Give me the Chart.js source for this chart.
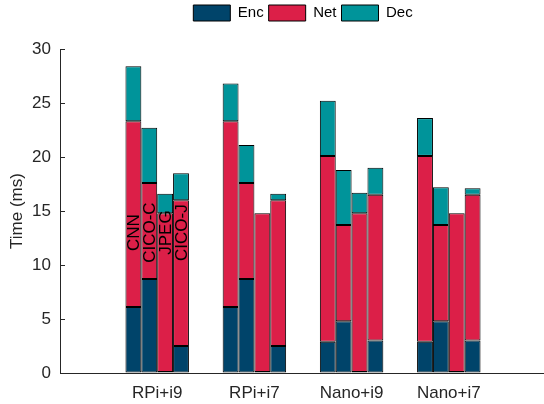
<!DOCTYPE html>
<html>
<head>
<meta charset="utf-8">
<script src="https://cdn.jsdelivr.net/npm/chart.js@4"></script>
<style>
  body { margin: 0; overflow: hidden; background: #fff; }
</style>
</head>
<body>
<canvas id="myChart" width="556" height="404"></canvas>
<script>
// Categories on the x axis (empty slots keep the 0..5 range)
var groups = ['', 'RPi+i9', 'RPi+i7', 'Nano+i9', 'Nano+i7', ''];
// Methods (one bar per method in each group)
var methods = ['CNN', 'CICO-C', 'JPEG', 'CICO-J'];
// Parts of each bar
var parts = ['Enc', 'Net', 'Dec'];

// Enc time per method, for RPi+i9, RPi+i7, Nano+i9, Nano+i7
var encCNN = [6.1, 6.1, 2.9, 2.9];
var encCICOC = [8.7, 8.7, 4.8, 4.8];
var encJPEG = [0.1, 0.1, 0.1, 0.1];
var encCICOJ = [2.5, 2.5, 3.0, 3.0];

// Net time per method
var netCNN = [17.2, 17.2, 17.2, 17.2];
var netCICOC = [8.9, 8.9, 8.9, 8.9];
var netJPEG = [14.7, 14.7, 14.7, 14.7];
var netCICOJ = [13.5, 13.5, 13.5, 13.5];

// Dec time per method
var decCNN = [5.1, 3.5, 5.1, 3.5];
var decCICOC = [5.1, 3.5, 5.1, 3.5];
var decJPEG = [1.8, 0, 1.9, 0];
var decCICOJ = [2.5, 0.6, 2.5, 0.6];

// Y axis ticks
var yTicks = [0, 5, 10, 15, 20, 25, 30];

var values = [
    [encCNN, netCNN, decCNN],
    [encCICOC, netCICOC, decCICOC],
    [encJPEG, netJPEG, decJPEG],
    [encCICOJ, netCICOJ, decCICOJ]
];
var colors = ['#00446a', '#dc1f48', '#00949a'];
var axisColor = '#262626';
var font = "'Liberation Sans', Arial, Helvetica, sans-serif";

// one dataset per method and part, stacked per method
var datasets = [];
methods.forEach(function(m, mi) {
    parts.forEach(function(p, pi) {
        datasets.push({
            label: p,
            stack: m,
            data: [null].concat(values[mi][pi]).concat([null]),
            backgroundColor: colors[pi],
            borderColor: '#000',
            borderWidth: 1,
            borderSkipped: false
        });
    });
});

// inward y ticks like the original
var inwardTicks = {
    id: 'inwardTicks',
    afterDraw: function(chart) {
        var ctx = chart.ctx;
        var y = chart.scales.y;
        ctx.save();
        ctx.strokeStyle = axisColor;
        ctx.lineWidth = 1;
        yTicks.forEach(function(t) {
            var py = Math.round(y.getPixelForValue(t)) + 0.5;
            ctx.beginPath();
            ctx.moveTo(chart.chartArea.left, py);
            ctx.lineTo(chart.chartArea.left + 5, py);
            ctx.stroke();
        });
        ctx.restore();
    }
};

// method names written inside the first group
var methodLabels = {
    id: 'methodLabels',
    afterDatasetsDraw: function(chart) {
        var ctx = chart.ctx;
        var y = chart.scales.y.getPixelForValue(13);
        ctx.save();
        ctx.fillStyle = '#000';
        ctx.font = '17px ' + font;
        ctx.textAlign = 'center';
        ctx.textBaseline = 'middle';
        methods.forEach(function(m, mi) {
            var bar = chart.getDatasetMeta(mi * 3).data[1];
            ctx.save();
            ctx.translate(bar.x + 1, y);
            ctx.rotate(-Math.PI / 2);
            ctx.fillText(m, 0, 0);
            ctx.restore();
        });
        ctx.restore();
    }
};

const ctx = document.getElementById('myChart').getContext('2d');
const myChart = new Chart(ctx, {
    type: 'bar',
    data: {
        labels: groups,
        datasets: datasets
    },
    options: {
        responsive: false,
        animation: false,
        layout: { padding: 0 },
        categoryPercentage: 0.653,
        barPercentage: 1.0,
        plugins: {
            tooltip: { enabled: false },
            legend: {
                position: 'top',
                fullSize: false,
                labels: {
                    boxWidth: 37,
                    boxHeight: 16,
                    padding: 5,
                    color: '#000',
                    font: { family: font, size: 15 },
                    filter: function(item) { return item.datasetIndex < 3; }
                }
            },
            // empty spacer below the legend
            title: {
                display: true,
                text: '',
                weight: 500,
                font: { size: 10, lineHeight: 1 },
                padding: { top: 8, bottom: 0 }
            }
        },
        scales: {
            x: {
                offset: false,
                stacked: true,
                grid: { display: false, drawTicks: false },
                border: { display: true, color: axisColor },
                ticks: {
                    color: axisColor,
                    font: { family: font, size: 17 },
                    padding: 10,
                    autoSkip: false,
                    maxRotation: 0
                },
                afterFit: function(s) { s.height = 31; }
            },
            y: {
                stacked: true,
                min: 0,
                max: 30,
                grid: { drawOnChartArea: false, drawTicks: false },
                border: { display: true, color: axisColor },
                ticks: {
                    stepSize: 5,
                    color: axisColor,
                    font: { family: font, size: 17 },
                    padding: 9
                },
                title: {
                    display: true,
                    text: 'Time (ms)',
                    color: axisColor,
                    font: { family: font, size: 17 },
                    padding: { top: 7, bottom: 0 }
                },
                afterFit: function(s) { s.width = 60; }
            }
        }
    },
    plugins: [inwardTicks, methodLabels]
});
</script>
</body>
</html>
